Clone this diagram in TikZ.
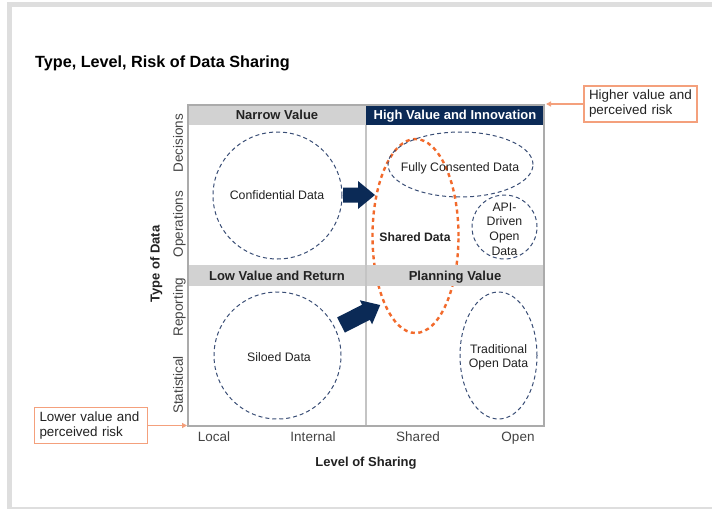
\documentclass[tikz,border=0pt]{standalone}
\usepackage{fontspec}
\setmainfont{Liberation Sans}
\usetikzlibrary{arrows.meta}
\definecolor{navy}{HTML}{0B2A56}
\definecolor{bandgray}{HTML}{D2D2D2}
\definecolor{gridgray}{HTML}{ABABAB}
\definecolor{midgray}{HTML}{C4C4C4}
\definecolor{framegray}{HTML}{DEDEDE}
\definecolor{dashnavy}{HTML}{3A4E76}
\definecolor{sharedorange}{HTML}{F26A2C}
\definecolor{annotorange}{HTML}{F4A07C}
\definecolor{annottip}{HTML}{F27A45}
\definecolor{txt}{HTML}{222222}
\tikzset{
  fixh/.style={text height=#1, text depth=0pt},
  band/.style={fill=bandgray, inner sep=0pt, text=txt, text height=9.4pt, text depth=0pt, font=\fontsize{13}{15}\selectfont\bfseries},
  navyband/.style={fill=navy, inner sep=0pt, text=white, text height=9.4pt, text depth=0pt, font=\fontsize{13}{15}\selectfont\bfseries},
  dashell/.style={draw=dashnavy, line width=1pt, dash pattern=on 4pt off 3pt},
  sharedell/.style={draw=sharedorange, line width=2.4pt, dash pattern=on 4pt off 3.5pt},
  ellabel/.style={text=txt, inner sep=0pt, align=center, font=\fontsize{12.3}{14.6}\selectfont},
  ticklabel/.style={text=txt!85, inner sep=0pt, text height=9.7pt, text depth=0pt, font=\fontsize{13.5}{15}\selectfont},
  axistitle/.style={text=txt, inner sep=0pt, text height=9.4pt, text depth=0pt, font=\fontsize{13}{15}\selectfont\bfseries},
  annot/.style={draw=annotorange, line width=1.3pt, fill=white, text=txt, align=left,
    inner xsep=5pt, inner ysep=0pt, minimum height=36pt, text width=103pt,
    font=\fontsize{13.4}{15}\selectfont},
  annotline/.style={draw=annotorange, line width=1.3pt, -{Triangle[length=5pt,width=5pt,fill=annottip]}},
}
\begin{document}
\begin{tikzpicture}[x=1pt,y=-1pt]
\useasboundingbox (0,0) rectangle (712,509);
\fill[white] (0,0) rectangle (712,509);
\fill[framegray] (7,2) rectangle (712,509);
\fill[white] (12,7) rectangle (712,507);

% title
\node[anchor=west, inner sep=0pt, text=black, text height=11.5pt, text depth=0pt, font=\fontsize{16.2}{18}\selectfont\bfseries] (title) at (35,62) {Type, Level, Risk of Data Sharing};

% grid background
\fill[white] (188,105) rectangle (544,426);

% shared data ellipse (under the bands)
\draw[sharedell] (415.5,236) ellipse [x radius=43pt, y radius=97pt];

% bands
\node[band, minimum width=178pt, minimum height=20pt] (nv) at (277,115) {Narrow Value};
\node[navyband, minimum width=178pt, minimum height=20pt] (hv) at (455,115) {High Value and Innovation};
\node[band, minimum width=178pt, minimum height=21pt] (lv) at (277,275.5) {Low Value and Return};
\node[band, minimum width=178pt, minimum height=21pt] (pv) at (455,275.5) {Planning Value};

% grid lines
\draw[midgray, line width=1.2pt] (366,125) -- (366,426);
\draw[gridgray, line width=1.5pt] (188,105) rectangle (544,426);

% navy dashed ellipses
\draw[dashell] (277.5,195.5) ellipse [x radius=64.5pt, y radius=63.5pt];
\draw[dashell] (460.5,164.5) ellipse [x radius=72.5pt, y radius=32.5pt];
\draw[dashell] (504.5,227) ellipse [x radius=32.5pt, y radius=32pt];
\draw[dashell] (277.5,355.5) ellipse [x radius=63.5pt, y radius=63.5pt];
\draw[dashell] (498.5,355.5) ellipse [x radius=38.5pt, y radius=63.5pt];

% labels inside
\node[ellabel, text height=8.9pt, text depth=0pt] (conf) at (277,195) {Confidential Data};
\node[ellabel, text height=8.9pt, text depth=0pt] (fully) at (460,167) {Fully Consented Data};
\node[ellabel] (api) at (504.5,229) {API-\\Driven\\Open\\Data};
\node[ellabel, text height=8.9pt, text depth=0pt] (silo) at (279,357) {Siloed Data};
\node[ellabel, font=\fontsize{12.3}{14}\selectfont] (trad) at (498.5,357) {Traditional\\Open Data};
\node[ellabel, text height=8.8pt, text depth=0pt, font=\fontsize{12.2}{15}\selectfont\bfseries] (shared) at (415,237) {Shared Data};

% block arrows
\fill[navy] (343,187.5) -- (358,187.5) -- (358,181) -- (375,195) -- (358,209) -- (358,202.5) -- (343,202.5) -- cycle;
\begin{scope}[shift={(341,325)}, rotate=27]
\fill[navy] (0,-8.5) -- (28,-8.5) -- (28,-13.5) -- (44,0) -- (28,13.5) -- (28,8.5) -- (0,8.5) -- cycle;
\end{scope}

% axis tick labels
\node[ticklabel, rotate=90] (dec) at (178,143) {Decisions};
\node[ticklabel, rotate=90] (ops) at (178,224) {Operations};
\node[ticklabel, rotate=90] (rep) at (178,307) {Reporting};
\node[ticklabel, rotate=90] (stat) at (178,385) {Statistical};
\node[ticklabel] (loc) at (214,437) {Local};
\node[ticklabel] (int) at (313,437) {Internal};
\node[ticklabel] (shr) at (418,437) {Shared};
\node[ticklabel] (opn) at (518,437) {Open};

% axis titles
\node[axistitle, rotate=90] (ytitle) at (155,264) {Type of Data};
\node[axistitle] (xtitle) at (366,462) {Level of Sharing};

% annotations
\node[annot] (hi) at (640.5,104) {Higher value and\\perceived risk};
\node[annot] (lo) at (91,425.5) {Lower value and\\perceived risk};
\coordinate (tr) at (546,104);
\coordinate (bl) at (187,425.5);
\draw[annotline] (hi.west) -- (tr);
\draw[annotline] (lo.east) -- (bl);
\end{tikzpicture}
\end{document}
